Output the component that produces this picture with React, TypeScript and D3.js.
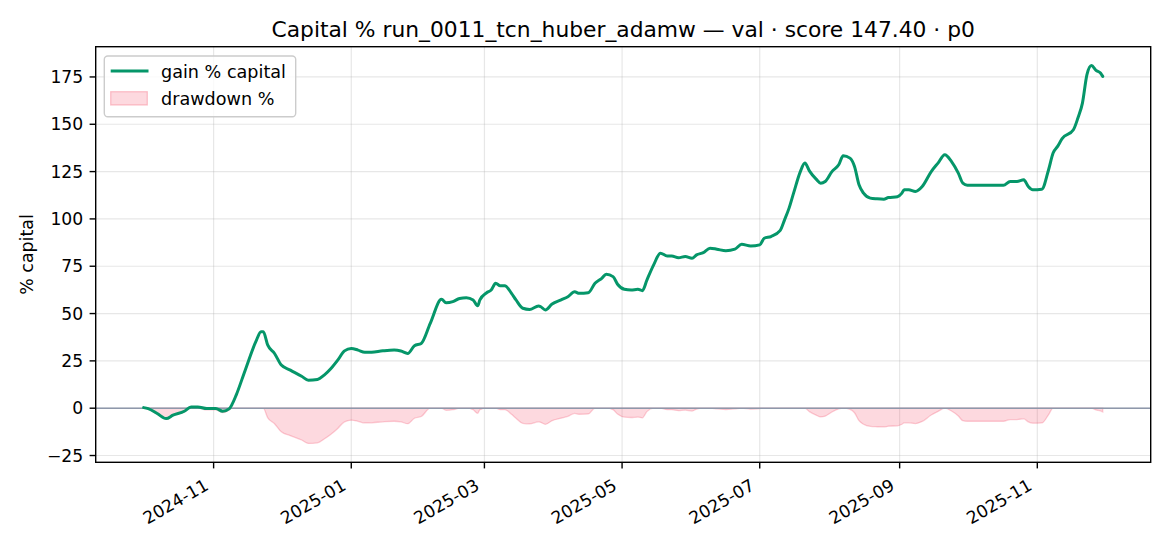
import * as d3 from "d3"
import { useLayoutEffect, useRef } from "react"

const TITLE = "Capital % run_0011_tcn_huber_adamw — val · score 147.40 · p0"

const DATES = [
  "2024-10-01", "2024-10-03", "2024-10-07", "2024-10-11", "2024-10-14", "2024-10-19",
  "2024-10-22", "2024-10-25", "2024-10-29", "2024-11-02", "2024-11-05", "2024-11-08",
  "2024-11-09", "2024-11-11", "2024-11-15", "2024-11-20", "2024-11-22", "2024-11-23",
  "2024-11-25", "2024-11-28", "2024-12-01", "2024-12-05", "2024-12-10", "2024-12-13",
  "2024-12-17", "2024-12-20", "2024-12-23", "2024-12-26", "2024-12-29", "2025-01-01",
  "2025-01-04", "2025-01-07", "2025-01-10", "2025-01-15", "2025-01-20", "2025-01-23",
  "2025-01-26", "2025-01-29", "2025-02-01", "2025-02-05", "2025-02-10", "2025-02-12",
  "2025-02-15", "2025-02-18", "2025-02-21", "2025-02-24", "2025-02-26", "2025-02-27",
  "2025-03-02", "2025-03-04", "2025-03-06", "2025-03-08", "2025-03-10", "2025-03-13",
  "2025-03-15", "2025-03-18", "2025-03-21", "2025-03-25", "2025-03-26", "2025-03-28",
  "2025-03-31", "2025-04-04", "2025-04-07", "2025-04-10", "2025-04-12", "2025-04-16",
  "2025-04-19", "2025-04-22", "2025-04-24", "2025-04-27", "2025-04-29", "2025-05-02",
  "2025-05-05", "2025-05-08", "2025-05-10", "2025-05-12", "2025-05-15", "2025-05-18",
  "2025-05-21", "2025-05-23", "2025-05-26", "2025-05-29", "2025-06-01", "2025-06-03",
  "2025-06-06", "2025-06-09", "2025-06-12", "2025-06-16", "2025-06-20", "2025-06-23",
  "2025-06-27", "2025-07-01", "2025-07-03", "2025-07-06", "2025-07-10", "2025-07-12",
  "2025-07-14", "2025-07-16", "2025-07-19", "2025-07-21", "2025-07-23", "2025-07-26",
  "2025-07-28", "2025-07-30", "2025-08-02", "2025-08-05", "2025-08-07", "2025-08-10",
  "2025-08-12", "2025-08-14", "2025-08-16", "2025-08-19", "2025-08-22", "2025-08-25",
  "2025-08-27", "2025-08-31", "2025-09-02", "2025-09-03", "2025-09-05", "2025-09-08",
  "2025-09-11", "2025-09-15", "2025-09-18", "2025-09-21", "2025-09-24", "2025-09-27",
  "2025-09-29", "2025-10-01", "2025-10-17", "2025-10-20", "2025-10-23", "2025-10-26",
  "2025-10-28", "2025-10-30", "2025-11-03", "2025-11-06", "2025-11-08", "2025-11-10",
  "2025-11-12", "2025-11-17", "2025-11-19", "2025-11-21", "2025-11-23", "2025-11-25",
  "2025-11-27", "2025-11-29", "2025-11-30",
]

const GAIN = [
  0.3, -0.2, -2.8, -5.5, -3.7, -1.6,
  0.7, 0.7, -0.2, -0.2, -1.6, -0.2,
  1.6, 6.9, 20.1, 36, 40.4, 40.4,
  33.3, 28.9, 22.8, 20.1, 16.9, 14.8,
  15.2, 17.5, 21, 25.4, 30.3, 31.6,
  30.7, 29.5, 29.6, 30.3, 30.7, 30.2,
  28.9, 33, 34.2, 44.8, 57.5, 55.7,
  56.3, 58, 58.4, 57.2, 54.1, 57.2,
  61, 62.4, 66, 64.7, 64.7, 60.7,
  57.2, 52.8, 52.2, 54, 53.6, 51.9,
  55, 57.2, 58.9, 61.5, 60.7, 61,
  66, 68.6, 70.8, 69.5, 65.5, 62.8,
  62.4, 62.8, 62.1, 67.7, 75.7, 81.9,
  80.4, 80.4, 79.5, 80.1, 79.2, 81,
  82.2, 84.5, 84, 83.2, 84, 86.6,
  85.7, 86.3, 89.8, 90.7, 93.8, 99.5,
  105.7, 113.6, 125, 129.5, 125.4, 121,
  118.9, 119.8, 125, 128.6, 133.4, 132.1,
  127.7, 118, 113.6, 111, 110.6, 110.4,
  111.3, 111.7, 113.6, 115.4, 115.4, 114.5,
  117.1, 125, 129.5, 133.9, 130.3, 124.2,
  118.9, 117.8, 117.8, 119.8, 119.8, 120.7,
  117.1, 115.4, 115.7, 126, 134.8, 138.3,
  142.4, 147.1, 153.3, 161.2, 176.2, 181,
  178.5, 177.1, 175.3,
]

const DRAWDOWN = [
  0, -0.5, -3.1, -5.8, -4.0, -1.9,
  0, 0, -0.9, -0.9, -2.3, -0.9,
  0, 0, 0, 0, 0, 0,
  -5.1, -8.2, -12.5, -14.5, -16.8, -18.6,
  -18.3, -16.3, -13.8, -10.7, -7.2, -6.3,
  -6.9, -7.8, -7.7, -7.2, -6.9, -7.2,
  -8.2, -5.3, -4.4, 0, 0, -1.1,
  -0.8, 0, 0, -0.8, -2.7, -0.8,
  0, 0, 0, -0.8, -0.8, -3.2,
  -5.3, -8.0, -8.3, -7.2, -7.5, -8.5,
  -6.6, -5.3, -4.3, -2.7, -3.2, -3.0,
  0, 0, 0, -0.8, -3.1, -4.7,
  -4.9, -4.7, -5.1, -1.8, 0, 0,
  -0.8, -0.8, -1.3, -1.0, -1.5, -0.5,
  0, 0, -0.3, -0.7, -0.3, 0,
  -0.5, -0.2, 0, 0, 0, 0,
  0, 0, 0, 0, -1.8, -3.7,
  -4.6, -4.2, -2.0, -0.4, 0, -0.6,
  -2.4, -6.6, -8.5, -9.6, -9.8, -9.9,
  -9.5, -9.3, -8.5, -7.7, -7.7, -8.1,
  -7.0, -3.6, -1.7, 0, -1.5, -4.1,
  -6.6, -6.9, -6.9, -6.0, -6.0, -5.6,
  -7.2, -7.9, -7.8, -3.4, 0, 0,
  0, 0, 0, 0, 0, 0,
  -0.9, -1.4, -2.0,
]

const Y_TICKS = [-25, 0, 25, 50, 75, 100, 125, 150, 175]
const LEGEND_LABELS = ["gain % capital", "drawdown %"]

const GREEN = "#059669"
const ROSE = "#f43f5e"
const FONT = "'DejaVu Sans', sans-serif"

const W = 1170
const H = 546

function CapitalChart() {
  const ref = useRef<SVGSVGElement>(null)

  useLayoutEffect(() => {
    if (!ref.current) return
    const svg = d3.select(ref.current)
    svg.selectAll("*").remove()

    const left = 95.7
    const right = 1150.7
    const top = 46.7
    const bottom = 462.3
    const tickFont = 17.2

    const parse = d3.timeParse("%Y-%m-%d")
    const dates = DATES.map((d) => parse(d)!)
    const t0 = +dates[0]
    const t1 = +dates[dates.length - 1]
    const pad = (t1 - t0) * 0.05
    const x = d3
      .scaleTime()
      .domain([new Date(t0 - pad), new Date(t1 + pad)])
      .range([left, right])

    const lo = d3.min(DRAWDOWN)!
    const hi = d3.max(GAIN)!
    const ypad = (hi - lo) * 0.05
    const y = d3
      .scaleLinear()
      .domain([lo - ypad, hi + ypad])
      .range([bottom, top])

    const xTicks = x.ticks(d3.timeMonth.every(2)!)
    const fmt = d3.timeFormat("%Y-%m")

    // grid
    const grid = svg.append("g").attr("stroke", "#b0b0b0").attr("stroke-opacity", 0.3).attr("stroke-width", 1.2)
    xTicks.forEach((t) => {
      grid.append("line").attr("x1", x(t)).attr("x2", x(t)).attr("y1", top).attr("y2", bottom)
    })
    Y_TICKS.forEach((v) => {
      grid.append("line").attr("x1", left).attr("x2", right).attr("y1", y(v)).attr("y2", y(v))
    })

    // drawdown fill
    const idx = d3.range(dates.length)
    const area = d3
      .area<number>()
      .x((i) => x(dates[i]))
      .y0(() => y(0))
      .y1((i) => y(DRAWDOWN[i]))
      .curve(d3.curveMonotoneX)
    svg
      .append("path")
      .attr("d", area(idx)!)
      .attr("fill", ROSE)
      .attr("fill-opacity", 0.2)
      .attr("stroke", ROSE)
      .attr("stroke-opacity", 0.25)
      .attr("stroke-width", 1.3)

    // zero line
    svg
      .append("line")
      .attr("x1", left)
      .attr("x2", right)
      .attr("y1", y(0))
      .attr("y2", y(0))
      .attr("stroke", "#8e98ab")
      .attr("stroke-width", 1.4)

    // gain line
    const line = d3
      .line<number>()
      .x((i) => x(dates[i]))
      .y((i) => y(GAIN[i]))
      .curve(d3.curveMonotoneX)
    svg
      .append("path")
      .attr("d", line(idx)!)
      .attr("fill", "none")
      .attr("stroke", GREEN)
      .attr("stroke-width", 3)
      .attr("stroke-linejoin", "round")
      .attr("stroke-linecap", "round")

    // spines
    svg
      .append("rect")
      .attr("x", left)
      .attr("y", top)
      .attr("width", right - left)
      .attr("height", bottom - top)
      .attr("fill", "none")
      .attr("stroke", "#000")
      .attr("stroke-width", 1.4)

    // y ticks
    const yAxis = svg.append("g").attr("font-family", FONT).attr("font-size", tickFont)
    Y_TICKS.forEach((v) => {
      yAxis
        .append("line")
        .attr("x1", left - 6.1)
        .attr("x2", left)
        .attr("y1", y(v))
        .attr("y2", y(v))
        .attr("stroke", "#000")
        .attr("stroke-width", 1.4)
      yAxis
        .append("text")
        .attr("x", left - 12.5)
        .attr("y", y(v))
        .attr("dy", "0.36em")
        .attr("text-anchor", "end")
        .text(v < 0 ? `\u2212${Math.abs(v)}` : String(v))
    })

    // x ticks
    const xAxis = svg.append("g").attr("font-family", FONT).attr("font-size", tickFont)
    xTicks.forEach((t) => {
      xAxis
        .append("line")
        .attr("x1", x(t))
        .attr("x2", x(t))
        .attr("y1", bottom)
        .attr("y2", bottom + 6.1)
        .attr("stroke", "#000")
        .attr("stroke-width", 1.4)
      xAxis
        .append("text")
        .attr("transform", `translate(${x(t) - 4},${bottom + 26.5}) rotate(-30)`)
        .attr("text-anchor", "end")
        .text(fmt(t))
    })

    // y label
    svg
      .append("text")
      .attr("transform", `translate(33,${(top + bottom) / 2}) rotate(-90)`)
      .attr("text-anchor", "middle")
      .attr("font-family", FONT)
      .attr("font-size", 17.4)
      .text("% capital")

    // title
    svg
      .append("text")
      .attr("x", (left + right) / 2)
      .attr("y", 36.5)
      .attr("text-anchor", "middle")
      .attr("font-family", FONT)
      .attr("font-size", 21.8)
      .text(TITLE)

    // legend
    const lg = svg.append("g").attr("font-family", FONT).attr("font-size", 17.6)
    lg.append("rect")
      .attr("x", 104.3)
      .attr("y", 56)
      .attr("width", 191.4)
      .attr("height", 60.7)
      .attr("rx", 3.5)
      .attr("fill", "#fff")
      .attr("fill-opacity", 0.8)
      .attr("stroke", "#cccccc")
      .attr("stroke-width", 1.4)
    lg.append("line")
      .attr("x1", 110.7)
      .attr("x2", 148.5)
      .attr("y1", 71)
      .attr("y2", 71)
      .attr("stroke", GREEN)
      .attr("stroke-width", 3)
    lg.append("text").attr("x", 161).attr("y", 78.3).text(LEGEND_LABELS[0])
    lg.append("rect")
      .attr("x", 110.7)
      .attr("y", 91.7)
      .attr("width", 36.6)
      .attr("height", 13.3)
      .attr("fill", ROSE)
      .attr("fill-opacity", 0.2)
      .attr("stroke", ROSE)
      .attr("stroke-opacity", 0.28)
      .attr("stroke-width", 1.3)
    lg.append("text").attr("x", 161).attr("y", 105).text(LEGEND_LABELS[1])
  }, [])

  return <svg ref={ref} width={W} height={H} style={{ display: "block", background: "#fff" }} />
}

export default function App() {
  useLayoutEffect(() => {
    document.body.style.margin = "0"
  }, [])
  return <CapitalChart />
}
